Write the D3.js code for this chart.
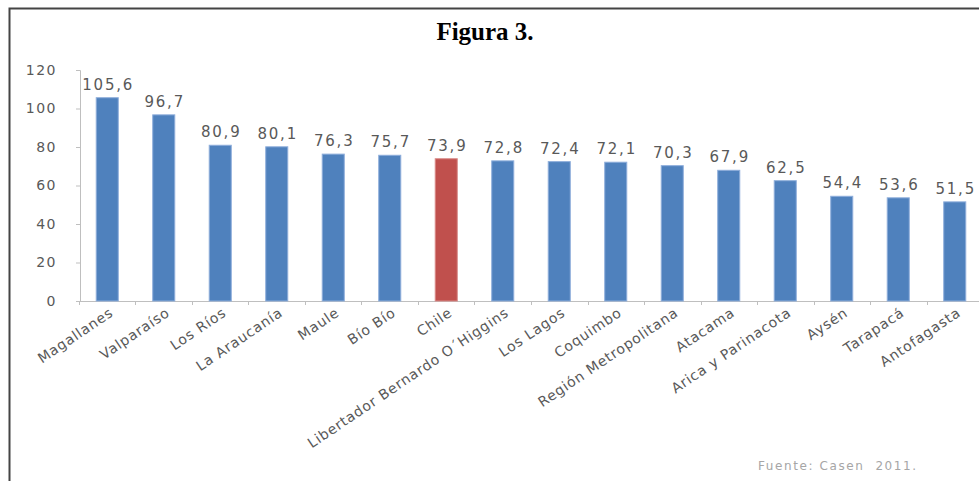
<!DOCTYPE html>
<html><head><meta charset="utf-8">
<script src="https://cdn.jsdelivr.net/npm/d3@7"></script>
<style>
html,body{margin:0;padding:0;background:#fff;}
svg{display:block;}
</style></head>
<body>
<svg id="chart" width="979" height="481"></svg>
<script>
const categories = ["Magallanes","Valparaíso","Los Ríos","La Araucanía","Maule","Bío Bío","Chile","Libertador Bernardo O´Higgins","Los Lagos","Coquimbo","Región Metropolitana","Atacama","Arica y Parinacota","Aysén","Tarapacá","Antofagasta"];
const values = [105.6,96.7,80.9,80.1,76.3,75.7,73.9,72.8,72.4,72.1,70.3,67.9,62.5,54.4,53.6,51.5];
const yTicks = [0,20,40,60,80,100,120];
const highlight = "Chile";

const svg = d3.select("#chart");

// frame
svg.append("path").attr("d","M9.5,481 V8.5 H979").attr("fill","none").attr("stroke","#444").attr("stroke-width",2);

// title
svg.append("text").attr("x",485).attr("y",40).attr("text-anchor","middle")
  .attr("font-family","Liberation Serif, Times New Roman, serif").attr("font-weight","bold")
  .attr("font-size",25).attr("fill","#000").text("Figura 3.");

const x = d3.scaleBand().domain(categories).range([79, 983]).paddingInner(0.61).paddingOuter(0.305);
const y = d3.scaleLinear().domain([0,120]).range([301,70]);

const fontF = "DejaVu Sans, Verdana, sans-serif";

// y axis
const ya = svg.append("g").attr("transform","translate(80,0)")
  .call(d3.axisLeft(y).tickValues(yTicks).tickSize(4).tickPadding(19).tickFormat(d3.format("d")));
ya.select(".domain").attr("stroke","#bfbfbf");
ya.selectAll(".tick line").attr("stroke","#bfbfbf");
ya.selectAll(".tick text").attr("font-family",fontF).attr("font-size",14).attr("fill","#595959").attr("letter-spacing",1.5);

// x axis line + ticks at band boundaries
const step = x.step();
svg.append("line").attr("x1",80).attr("x2",979).attr("y1",301.5).attr("y2",301.5).attr("stroke","#bfbfbf");
svg.append("g").selectAll("line").data(categories).join("line")
  .attr("x1",d=>Math.round(x(d) - (step - x.bandwidth())/2)+0.5)
  .attr("x2",d=>Math.round(x(d) - (step - x.bandwidth())/2)+0.5)
  .attr("y1",301).attr("y2",305).attr("stroke","#bfbfbf");

// bars
svg.append("g").selectAll("rect").data(categories).join("rect")
  .attr("x",d=>x(d)).attr("width",x.bandwidth())
  .attr("y",(d,i)=>y(values[i])).attr("height",(d,i)=>y(0)-y(values[i]))
  .attr("fill",d=>d===highlight?"#c0504d":"#4f81bd")
  .attr("stroke",d=>d===highlight?"#d98a88":"#8eaedb").attr("stroke-width",1);

// value labels
svg.append("g").selectAll("text").data(categories).join("text")
  .attr("x",d=>x(d)+x.bandwidth()/2+1).attr("y",(d,i)=>y(values[i])-8)
  .attr("text-anchor","middle").attr("font-family",fontF).attr("font-size",15)
  .attr("letter-spacing",1.8).attr("fill","#595959")
  .text((d,i)=>d3.format(".1f")(values[i]).replace(".",","));

// category labels
svg.append("g").selectAll("text").data(categories).join("text")
  .attr("transform",d=>`translate(${x(d)+x.bandwidth()/2+7},${315}) rotate(-34)`)
  .attr("text-anchor","end").attr("font-family",fontF).attr("font-size",14)
  .attr("letter-spacing",0.8).attr("fill","#595959").text(d=>d);

// source
svg.append("text").attr("x",758).attr("y",470).attr("font-family",fontF).attr("font-size",12)
  .attr("letter-spacing",1.6).attr("fill","#a6a6a6").attr("xml:space","preserve").style("white-space","pre")
  .text("Fuente: Casen  2011.");
</script>
</body></html>
